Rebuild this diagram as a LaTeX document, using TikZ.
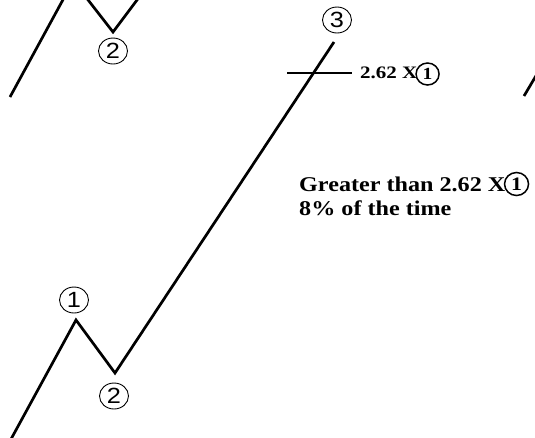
\documentclass[tikz,border=0pt]{standalone}
\usepackage{fontspec}
\usetikzlibrary{shapes.geometric}
\setmainfont{Liberation Serif}
\newfontfamily\digitfont{Liberation Sans}
\newcommand{\wide}[1]{\scalebox{1.15}[1]{#1}}
\begin{document}
\begin{tikzpicture}[x=1pt,y=-1pt,
  wave/.style={line width=2.7pt, line join=miter},
  tick/.style={line width=1.4pt},
  wlabel/.style={ellipse, draw, line width=0.9pt, inner sep=0pt,
    minimum width=29pt, minimum height=26pt,
    font=\digitfont\fontsize{22}{22}\selectfont},
  tlabel/.style={ellipse, draw, line width=1.5pt, inner sep=0pt,
    minimum width=24pt, minimum height=23pt,
    font=\bfseries\fontsize{19}{19}\selectfont},
  note/.style={font=\bfseries\fontsize{21}{24}\selectfont, inner sep=0pt, anchor=base west},
  smallnote/.style={font=\bfseries\fontsize{17.5}{18}\selectfont, inner sep=0pt, anchor=base west}]
\useasboundingbox (0,0) rectangle (535,437);
\fill[white] (0,0) rectangle (535,437);
\begin{scope}
\clip (0,0) rectangle (535,437);
% top-left fragments
\coordinate (a0) at (10,97);
\coordinate (a1) at (65,-4);
\coordinate (b0) at (85,-4);
\coordinate (b1) at (113,32);
\coordinate (b2) at (140,-4);
% main wave
\coordinate (p0) at (10,441);
\coordinate (p1) at (76,320);
\coordinate (p2) at (115,373);
\coordinate (p3) at (334,42);
% right fragment
\coordinate (r0) at (524,96);
\coordinate (r1) at (540,69);
\draw[wave] (a0) -- (a1);
\draw[wave] (b0) -- (b1) -- (b2);
\draw[wave] (p0) -- (p1) -- (p2) -- (p3);
\draw[wave] (r0) -- (r1);
\end{scope}
% wave labels
\node[wlabel] (l2top) at (113,51) {\wide{2}};
\node[wlabel] (l3) at (337,20) {\wide{3}};
\node[wlabel] (l1) at (74,300) {\wide{1}};
\node[wlabel] (l2) at (114,396) {\wide{2}};
% target tick
\coordinate (t0) at (287,73);
\coordinate (t1) at (352,73);
\draw[tick] (t0) -- (t1);
\node[smallnote] (s1) at (360,78) {\scalebox{1.2}[1]{2.62 X}};
\node[tlabel, minimum width=23pt, minimum height=22pt, font=\bfseries\fontsize{17}{17}\selectfont] (s1c) at ([xshift=10pt,yshift=4pt]s1.base east) {\wide{1}};
% note
\node[note] (g1) at (299,191) {\wide{Greater than 2.62 X}};
\node[tlabel] (g1c) at ([xshift=11pt,yshift=7pt]g1.base east) {\wide{1}};
\node[note] (g2) at (299,215) {\wide{8\% of the time}};
\end{tikzpicture}
\end{document}
